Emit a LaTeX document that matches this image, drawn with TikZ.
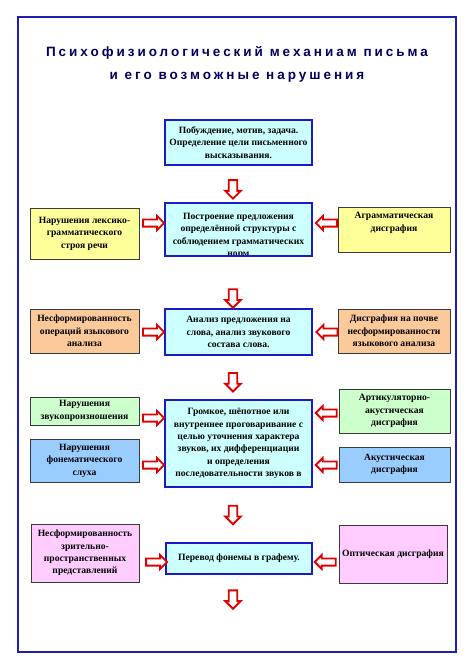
\documentclass[tikz,border=0pt]{standalone}
\usepackage{fontspec}
\setmainfont{Liberation Serif}
\newfontfamily\titlefont[LetterSpace=22]{Liberation Sans}
\usetikzlibrary{shapes.arrows,calc}
\definecolor{framecol}{HTML}{1E1EB4}
\definecolor{titlecol}{HTML}{00005E}
\definecolor{cbord}{HTML}{1A1AC8}
\definecolor{cfill}{HTML}{CCFFFF}
\definecolor{sbord}{HTML}{3A3A3A}
\definecolor{yel}{HTML}{FFFF99}
\definecolor{ora}{HTML}{FCC99A}
\definecolor{grn}{HTML}{CCFFCC}
\definecolor{blu}{HTML}{99CCFF}
\definecolor{pnk}{HTML}{FFCCFF}
\definecolor{arred}{HTML}{E00000}
\begin{document}
\begin{tikzpicture}[x=1pt,y=-1pt,
  txt/.style={align=center,inner sep=0pt,font=\bfseries\fontsize{9.6}{12.4}\selectfont},
  cbox/.style={txt,draw=cbord,line width=1.8pt,fill=cfill},
  sbox/.style={txt,draw=sbord,line width=0.8pt},
  ttl/.style={inner sep=0pt,text=titlecol,font=\titlefont\bfseries\fontsize{13.5}{16}\selectfont},
  harrow/.style={single arrow,draw=arred,fill=white,line width=1.8pt,inner sep=2.7pt,
    minimum height=21pt,single arrow head extend=3.4pt,sloped,allow upside down},
  darrow/.style={single arrow,draw=arred,fill=white,line width=1.9pt,inner sep=3.3pt,
    minimum height=18.5pt,single arrow head extend=3.5pt,sloped,allow upside down}]
\useasboundingbox (0,0) rectangle (474,670);
\draw[framecol,line width=1.6pt] (18,17) rectangle (456,652);
\node[ttl] (t1) at (237,53) {Психофизиологический механиам письма};
\node[ttl] (t2) at (237,77) {и его возможные нарушения};
% centre column
\node[cbox,minimum width=147pt,minimum height=45pt] (A) at (238.5,142.5)
  {Побуждение, мотив, задача.\\Определение цели письменного\\высказывания.};
\node[cbox,minimum width=147pt,minimum height=53pt,
  path picture={\node[txt,anchor=north] (C2t) at ($(path picture bounding box.north)+(0,5.5)$)
  {Построение предложения\\определённой структуры с\\соблюдением грамматических\\норм};}]
  (C2) at (238.5,229.5) {};
\node[cbox,minimum width=147pt,minimum height=46pt] (C3) at (238.5,332)
  {Анализ предложения на\\слова, анализ звукового\\состава слова.};
\node[cbox,minimum width=147pt,minimum height=87pt] (C4) at (238.5,443.5)
  {Громкое, шёпотное или\\внутреннее проговаривание с\\целью уточнения характера\\звуков, их дифференциации\\и определения\\последовательности звуков в};
\node[cbox,minimum width=146pt,minimum height=31pt] (C5) at (239,558.5)
  {Перевод фонемы в графему.};
% side boxes
\node[sbox,fill=yel,minimum width=109pt,minimum height=51pt] (L2) at (84.5,233.5)
  {Нарушения лексико-\\грамматического\\строя речи};
\node[sbox,fill=yel,minimum width=112pt,minimum height=45pt] (R2) at (394,229.5)
  {Аграмматическая\\дисграфия\\[3pt]};
\node[sbox,fill=ora,minimum width=109pt,minimum height=44pt] (L3) at (84.5,331)
  {Несформированность\\операций языкового\\анализа};
\node[sbox,fill=ora,minimum width=112pt,minimum height=44pt] (R3) at (394,331)
  {Дисграфия на почве\\несформированности\\языкового анализа};
\node[sbox,fill=grn,minimum width=109pt,minimum height=28pt] (L4a) at (84.5,411)
  {Нарушения\\звукопроизношения};
\node[sbox,fill=blu,minimum width=109pt,minimum height=43pt] (L4b) at (84.5,460.5)
  {Нарушения\\фонематического\\слуха};
\node[sbox,fill=grn,minimum width=111pt,minimum height=44pt] (R4a) at (394.5,411)
  {Артикуляторно-\\акустическая\\дисграфия};
\node[sbox,fill=blu,minimum width=111pt,minimum height=35pt] (R4b) at (394.5,464.5)
  {Акустическая\\дисграфия};
\node[sbox,fill=pnk,minimum width=108pt,minimum height=58pt] (L5) at (85,553)
  {Несформированность\\зрительно-\\пространственных\\представлений};
\node[sbox,fill=pnk,minimum width=108pt,minimum height=58pt] (R5) at (393,554)
  {Оптическая дисграфия};
\coordinate (end) at (233,620);
% down arrows
\path ($(A.south)+(-5.5,0)$) -- node[darrow,pos=0.59] (d1) {} ($(C2.north)+(-5.5,0)$);
\path ($(C2.south)+(-5.5,0)$) -- node[darrow,pos=0.77] (d2) {} ($(C3.north)+(-5.5,0)$);
\path ($(C3.south)+(-5.5,0)$) -- node[darrow,pos=0.56] (d3) {} ($(C4.north)+(-5.5,0)$);
\path ($(C4.south)+(-5.5,0)$) -- node[darrow,pos=0.46] (d4) {} ($(C5.north)+(-6,0)$);
\path ($(C5.south)+(-6,0)$) -- node[darrow,pos=0.5] (d5) {} (end);
% side arrows
\path ($(L2.east)+(0,-10.5)$) -- node[harrow] (aL2) {} ($(C2.west)+(0,-6.5)$);
\path ($(R2.west)+(0,-6.5)$) -- node[harrow,pos=0.38] (aR2) {} ($(C2.east)+(0,-6.5)$);
\path ($(L3.east)+(0,1)$) -- node[harrow] (aL3) {} (C3.west);
\path ($(R3.west)+(0,1)$) -- node[harrow,pos=0.36] (aR3) {} (C3.east);
\path ($(L4a.east)+(0,7)$) -- node[harrow] (aL4a) {} ($(C4.west)+(0,-25.5)$);
\path ($(L4b.east)+(0,4.5)$) -- node[harrow] (aL4b) {} ($(C4.west)+(0,21.5)$);
\path ($(R4a.west)+(0,2)$) -- node[harrow,pos=0.41] (aR4a) {} ($(C4.east)+(0,-30.5)$);
\path ($(R4b.west)+(0,0.5)$) -- node[harrow,pos=0.41] (aR4b) {} ($(C4.east)+(0,21.5)$);
\path ($(L5.east)+(0,9)$) -- node[harrow,pos=0.6] (aL5) {} ($(C5.west)+(0,3.5)$);
\path ($(R5.west)+(0,8)$) -- node[harrow,pos=0.45] (aR5) {} ($(C5.east)+(0,3.5)$);
\end{tikzpicture}
\end{document}
